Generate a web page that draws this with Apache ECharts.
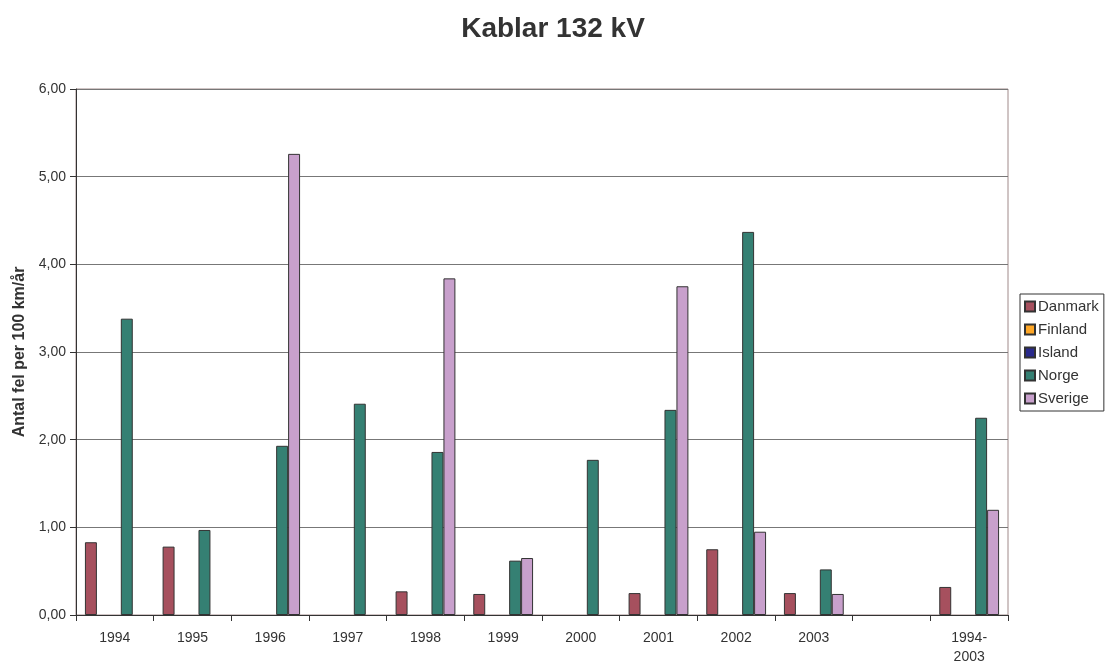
<!DOCTYPE html>
<html>
<head>
<meta charset="utf-8">
<script src="https://cdn.jsdelivr.net/npm/echarts@6/dist/echarts.min.js"></script>
<style>
  html, body { margin: 0; padding: 0; background: #fff; }
  #main { width: 1106px; height: 664px; }
</style>
</head>
<body>
<div id="main"></div>
<script>
// kategorier (tom kategori före totalen)
var years = ['1994', '1995', '1996', '1997', '1998', '1999', '2000', '2001', '2002', '2003', '', '1994-\n2003'];

// antal fel per 100 km/år
var danmark = [0.83, 0.78, null, null, 0.27, 0.24, null, 0.25, 0.75, 0.25, null, 0.32];
var finland = [null, null, null, null, null, null, null, null, null, null, null, null];
var island  = [null, null, null, null, null, null, null, null, null, null, null, null];
var norge   = [3.38, 0.97, 1.93, 2.41, 1.86, 0.62, 1.77, 2.34, 4.37, 0.52, null, 2.25];
var sverige = [null, null, 5.26, null, 3.84, 0.65, null, 3.75, 0.95, 0.24, null, 1.20];

var yTicks = [0, 1, 2, 3, 4, 5, 6];

var FONT = 'Liberation Sans, Arial, sans-serif';

var chart = echarts.init(document.getElementById('main'));

function bar(name, data, color) {
    return {
        name: name,
        type: 'bar',
        data: data,
        barGap: '0%',
        barCategoryGap: '23%',
        itemStyle: {
            color: color,
            borderColor: '#333',
            borderWidth: 1
        }
    };
}

var option = {
    animation: false,
    backgroundColor: '#fff',
    title: {
        text: 'Kablar 132 kV',
        left: 'center',
        top: 10,
        textStyle: {
            fontFamily: FONT,
            fontSize: 28,
            fontWeight: 'bold',
            color: '#333'
        }
    },
    legend: {
        orient: 'vertical',
        left: 1020,
        top: 294,
        itemWidth: 10,
        itemHeight: 10,
        itemGap: 8,
        padding: [5, 5, 5, 4],
        borderColor: '#333',
        borderWidth: 1,
        borderRadius: 0,
        icon: 'rect',
        textStyle: {
            fontFamily: FONT,
            fontSize: 15,
            color: '#333',
            padding: [0, 0, 0, -2]
        },
        data: ['Danmark', 'Finland', 'Island', 'Norge', 'Sverige']
    },
    grid: {
        left: 76,
        right: 98,
        top: 89,
        bottom: 49,
        outerBoundsMode: 'none',
        show: true,
        borderColor: '#a08a8a',
        borderWidth: 1
    },
    xAxis: {
        type: 'category',
        data: years,
        boundaryGap: true,
        axisLine: { lineStyle: { color: '#333', width: 1 } },
        axisTick: { show: true, length: 6, lineStyle: { color: '#333' } },
        axisLabel: {
            fontFamily: FONT,
            fontSize: 14,
            color: '#333',
            margin: 14,
            lineHeight: 19,
            interval: 0
        }
    },
    yAxis: {
        type: 'value',
        min: yTicks[0],
        max: yTicks[yTicks.length - 1],
        interval: 1,
        name: 'Antal fel per 100 km/år',
        nameLocation: 'middle',
        nameGap: 48,
        nameRotate: 90,
        nameTextStyle: {
            fontFamily: FONT,
            fontSize: 16,
            fontWeight: 'bold',
            color: '#333'
        },
        axisLine: { show: true, lineStyle: { color: '#333', width: 1 } },
        axisTick: { show: true, length: 6, lineStyle: { color: '#333' } },
        splitLine: { show: true, lineStyle: { color: '#777', width: 1 } },
        axisLabel: {
            fontFamily: FONT,
            fontSize: 14,
            color: '#333',
            margin: 10,
            formatter: function (v) { return v.toFixed(2).replace('.', ','); }
        }
    },
    series: [
        bar('Danmark', danmark, '#a6505e'),
        bar('Finland', finland, '#ffa726'),
        bar('Island', island, '#2a2a8c'),
        bar('Norge', norge, '#358073'),
        bar('Sverige', sverige, '#c8a0cc')
    ]
};

chart.setOption(option);
</script>
</body>
</html>
